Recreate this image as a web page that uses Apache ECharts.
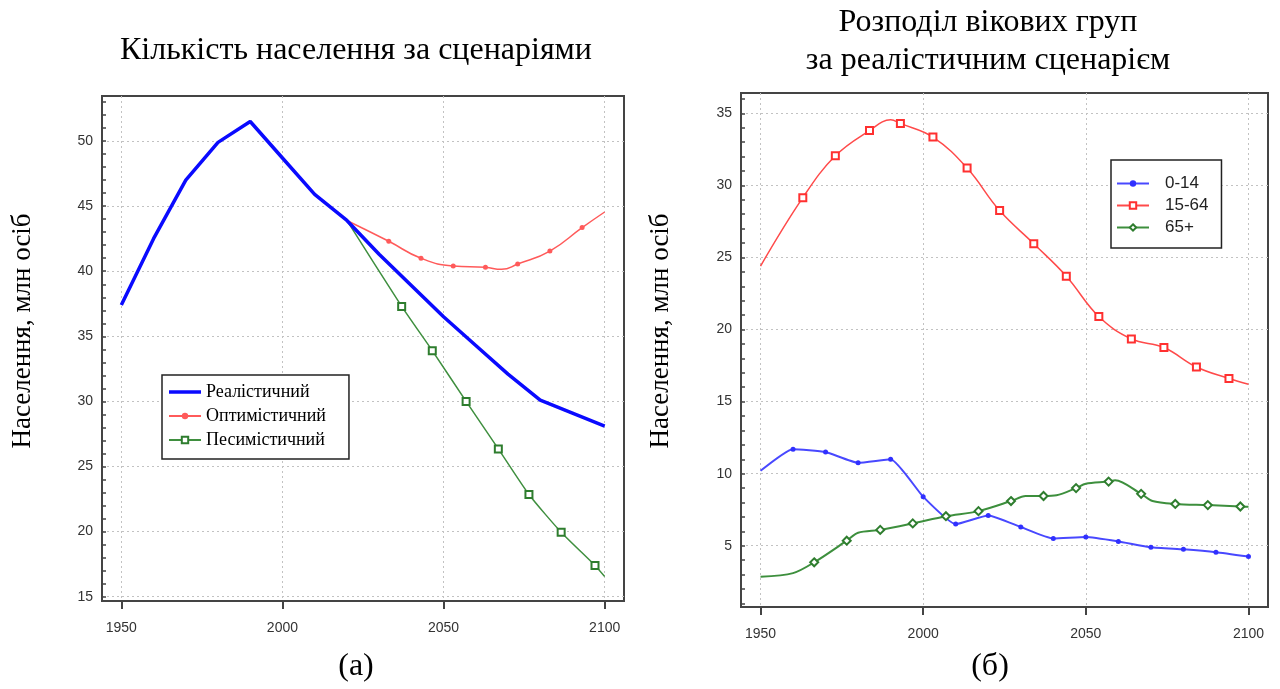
<!DOCTYPE html>
<html>
<head>
<meta charset="utf-8">
<title>Населення за сценаріями</title>
<script src="https://cdn.jsdelivr.net/npm/echarts@6/dist/echarts.min.js"></script>
<style>
  html, body { margin: 0; padding: 0; background: #fff; }
  #chart { width: 1280px; height: 689px; }
</style>
</head>
<body>
<div id="chart"></div>
<script>
// ===== дані: (а) кількість населення, млн =====
var realYears = [1950, 1960, 1970, 1980, 1990, 2000, 2010, 2020, 2030, 2040, 2050, 2060, 2070, 2080, 2090, 2100];
var realPop = [37.4, 42.5, 47.0, 49.9, 51.5, 48.7, 45.9, 43.9, 41.3, 38.9, 36.5, 34.3, 32.1, 30.1, 29.1, 28.1];

var optYears = [2020, 2033, 2043, 2053, 2063, 2068, 2073, 2083, 2093, 2100];
var optPop = [43.9, 42.3, 41.0, 40.4, 40.3, 40.15, 40.55, 41.55, 43.35, 44.55];
var optMarkYears = [2033, 2043, 2053, 2063, 2073, 2083, 2093];

var pesYears = [2020, 2037, 2046.5, 2057, 2067, 2076.5, 2086.5, 2097, 2100];
var pesPop = [43.9, 37.3, 33.9, 30.0, 26.35, 22.85, 19.95, 17.4, 16.55];
var pesMarkYears = [2037, 2046.5, 2057, 2067, 2076.5, 2086.5, 2097];

// ===== дані: (б) вікові групи, млн =====
var youngYears = [1950, 1960, 1970, 1980, 1990, 2000, 2010, 2020, 2030, 2040, 2050, 2060, 2070, 2080, 2090, 2100];
var young = [10.2, 11.7, 11.5, 10.75, 11.0, 8.4, 6.5, 7.1, 6.3, 5.5, 5.6, 5.3, 4.9, 4.75, 4.55, 4.25];
var youngMarkYears = [1960, 1970, 1980, 1990, 2000, 2010, 2020, 2030, 2040, 2050, 2060, 2070, 2080, 2090, 2100];

var workYears = [1950, 1963, 1973, 1983.5, 1990, 1993, 2003, 2013.5, 2023.5, 2034, 2044, 2054, 2064, 2074, 2084, 2094, 2100];
var work = [24.4, 29.15, 32.05, 33.8, 34.55, 34.3, 33.35, 31.2, 28.25, 25.95, 23.7, 20.9, 19.35, 18.75, 17.4, 16.6, 16.2];
var workMarkYears = [1963, 1973, 1983.5, 1993, 2003, 2013.5, 2023.5, 2034, 2044, 2054, 2064, 2074, 2084, 2094];

var oldYears = [1950, 1960, 1966.5, 1976.5, 1980, 1986.8, 1996.8, 2007, 2017, 2027, 2031.5, 2037, 2041, 2047, 2050, 2057, 2059, 2067, 2070.5, 2077.5, 2087.5, 2097.5, 2100];
var old = [2.85, 3.1, 3.85, 5.35, 5.9, 6.1, 6.55, 7.05, 7.4, 8.1, 8.45, 8.45, 8.5, 9.0, 9.3, 9.45, 9.55, 8.6, 8.1, 7.9, 7.82, 7.72, 7.7];
var oldMarkYears = [1966.5, 1976.5, 1986.8, 1996.8, 2007, 2017, 2027, 2037, 2047, 2057, 2067, 2077.5, 2087.5, 2097.5];

// ===== підписи осей =====
var xTicks = [1950, 2000, 2050, 2100];
var yTicksA = [15, 20, 25, 30, 35, 40, 45, 50];
var yTicksB = [5, 10, 15, 20, 25, 30, 35];

function intsBetween(a, b) {
  var r = [];
  for (var v = a; v <= b; v++) r.push(v);
  return r;
}

// точки лінії; маркер лише там, де він є на рисунку
function pts(xs, ys, marks) {
  return xs.map(function (x, i) {
    var item = { value: [x, ys[i]] };
    if (marks.indexOf(x) < 0) item.symbol = 'none';
    return item;
  });
}

var axisColor = '#444';
var gridLine = { show: true, lineStyle: { color: '#c2c2c2', width: 1, type: [2, 3] } };
var labelFont = { fontFamily: 'Liberation Sans', fontSize: 14, color: '#333' };
var serif = 'Liberation Serif';
var bigText = { fontFamily: serif, fontSize: 32, fontWeight: 'normal', color: '#000' };

function xAxisFor(gi) {
  return {
    type: 'value', gridIndex: gi, min: 1944, max: 2106, splitNumber: 3,
    axisLine: { show: true, onZero: false, lineStyle: { color: axisColor, width: 2 } },
    axisTick: { show: true, customValues: xTicks, length: 8, lineStyle: { color: axisColor, width: 2 } },
    axisLabel: Object.assign({ customValues: xTicks, margin: 20,
      formatter: function (v) { return v % 50 === 0 ? String(v) : ''; } }, labelFont),
    splitLine: gridLine
  };
}

function yAxisFor(gi, min, max, split, ticks) {
  return {
    type: 'value', gridIndex: gi, min: min, max: max, splitNumber: split, position: 'left',
    axisLine: { show: true, onZero: false, lineStyle: { color: axisColor, width: 2 } },
    axisTick: { show: true, customValues: ticks, inside: true, length: 4, lineStyle: { color: axisColor, width: 1.5 } },
    axisLabel: Object.assign({ customValues: ticks, margin: 9,
      formatter: function (v) { return v % 5 === 0 ? String(v) : ''; } }, labelFont),
    splitLine: gridLine
  };
}

// дрібні поділки через кожну одиницю
function yMinorFor(gi, min, max) {
  return {
    type: 'value', gridIndex: gi, min: min, max: max, position: 'left', offset: 0,
    axisLine: { show: false },
    axisTick: { show: true, customValues: intsBetween(Math.ceil(min), Math.floor(max)), inside: true, length: 4,
      lineStyle: { color: axisColor, width: 1.5 } },
    axisLabel: { show: false },
    splitLine: { show: false }
  };
}

var chart = echarts.init(document.getElementById('chart'));
chart.setOption({
  animation: false,
  backgroundColor: '#fff',
  title: [
    { text: 'Кількість населення за сценаріями', left: 356, top: 35, textAlign: 'center', padding: 0, textStyle: bigText },
    { text: 'Розподіл вікових груп', left: 988, top: 7, textAlign: 'center', padding: 0, textStyle: bigText },
    { text: 'за реалістичним сценарієм', left: 988, top: 45, textAlign: 'center', padding: 0, textStyle: bigText },
    { text: '(а)', left: 356, top: 651, textAlign: 'center', padding: 0, textStyle: bigText },
    { text: '(б)', left: 990, top: 651, textAlign: 'center', padding: 0, textStyle: bigText }
  ],
  graphic: [
    { type: 'text', x: 23, y: 331, rotation: Math.PI / 2,
      style: { text: 'Населення, млн осіб', font: '27px "Liberation Serif"', fill: '#000',
        textAlign: 'center', textVerticalAlign: 'middle' } },
    { type: 'text', x: 661, y: 331, rotation: Math.PI / 2,
      style: { text: 'Населення, млн осіб', font: '27px "Liberation Serif"', fill: '#000',
        textAlign: 'center', textVerticalAlign: 'middle' } }
  ],
  grid: [
    { left: 102, top: 96, right: 656, bottom: 88, show: true, borderColor: axisColor, borderWidth: 2, backgroundColor: '#fff' },
    { left: 741, top: 93, right: 12, bottom: 82, show: true, borderColor: axisColor, borderWidth: 2, backgroundColor: '#fff' }
  ],
  xAxis: [xAxisFor(0), xAxisFor(1)],
  yAxis: [
    yAxisFor(0, 14.67, 53.46, 8, yTicksA),
    yMinorFor(0, 14.67, 53.46),
    yAxisFor(1, 0.75, 36.41, 7, yTicksB),
    yMinorFor(1, 0.75, 36.41)
  ],
  legend: [
    {
      orient: 'vertical', left: 162, top: 375, itemWidth: 32, itemHeight: 8, itemGap: 6,
      padding: [8, 23, 10, 6], borderColor: '#222', borderWidth: 1.5, backgroundColor: '#fff',
      textStyle: { fontFamily: serif, fontSize: 18, color: '#000' },
      data: [
        { name: 'Реалістичний', icon: 'path://M0,0H32V3.5H0Z' },
        'Оптимістичний',
        'Песимістичний'
      ]
    },
    {
      orient: 'vertical', left: 1111, top: 160, itemWidth: 32, itemHeight: 8, itemGap: 5,
      padding: [15, 13, 12, 5], borderColor: '#222', borderWidth: 1.5, backgroundColor: '#fff',
      textStyle: { fontFamily: 'Liberation Sans', fontSize: 17, color: '#222', padding: [0, 0, 0, 11] },
      data: ['0-14', '15-64', '65+']
    }
  ],
  series: [
    {
      name: 'Реалістичний', type: 'line', xAxisIndex: 0, yAxisIndex: 0, z: 4,
      symbol: 'none', lineStyle: { color: '#0a0aff', width: 3.5 }, itemStyle: { color: '#0a0aff' },
      data: pts(realYears, realPop, [])
    },
    {
      name: 'Оптимістичний', type: 'line', xAxisIndex: 0, yAxisIndex: 0, z: 3,
      symbol: 'circle', symbolSize: 5, showAllSymbol: true, smooth: 0.5,
      lineStyle: { color: '#ff5a5a', width: 1.5 }, itemStyle: { color: '#ff5a5a' },
      data: pts(optYears, optPop, optMarkYears)
    },
    {
      name: 'Песимістичний', type: 'line', xAxisIndex: 0, yAxisIndex: 0, z: 3,
      symbol: 'emptyRect', symbolSize: 7, showAllSymbol: true, smooth: 0.2,
      lineStyle: { color: '#3f8f3f', width: 1.5 }, itemStyle: { color: '#2e7d2e', borderWidth: 1.5 },
      data: pts(pesYears, pesPop, pesMarkYears)
    },
    {
      name: '0-14', type: 'line', xAxisIndex: 1, yAxisIndex: 2,
      symbol: 'circle', symbolSize: 5, showAllSymbol: true, smooth: 0.15,
      lineStyle: { color: '#4848ff', width: 2 }, itemStyle: { color: '#3030ff' },
      data: pts(youngYears, young, youngMarkYears)
    },
    {
      name: '15-64', type: 'line', xAxisIndex: 1, yAxisIndex: 2,
      symbol: 'emptyRect', symbolSize: 7, showAllSymbol: true, smooth: 0.4,
      lineStyle: { color: '#ff4a4a', width: 1.5 }, itemStyle: { color: '#ff3030', borderWidth: 1.5 },
      data: pts(workYears, work, workMarkYears)
    },
    {
      name: '65+', type: 'line', xAxisIndex: 1, yAxisIndex: 2,
      symbol: 'emptyDiamond', symbolSize: 8, showAllSymbol: true, smooth: 0.3,
      lineStyle: { color: '#3d8f3d', width: 2 }, itemStyle: { color: '#2e7d2e', borderWidth: 1.5 },
      data: pts(oldYears, old, oldMarkYears)
    }
  ]
});
</script>
</body>
</html>
